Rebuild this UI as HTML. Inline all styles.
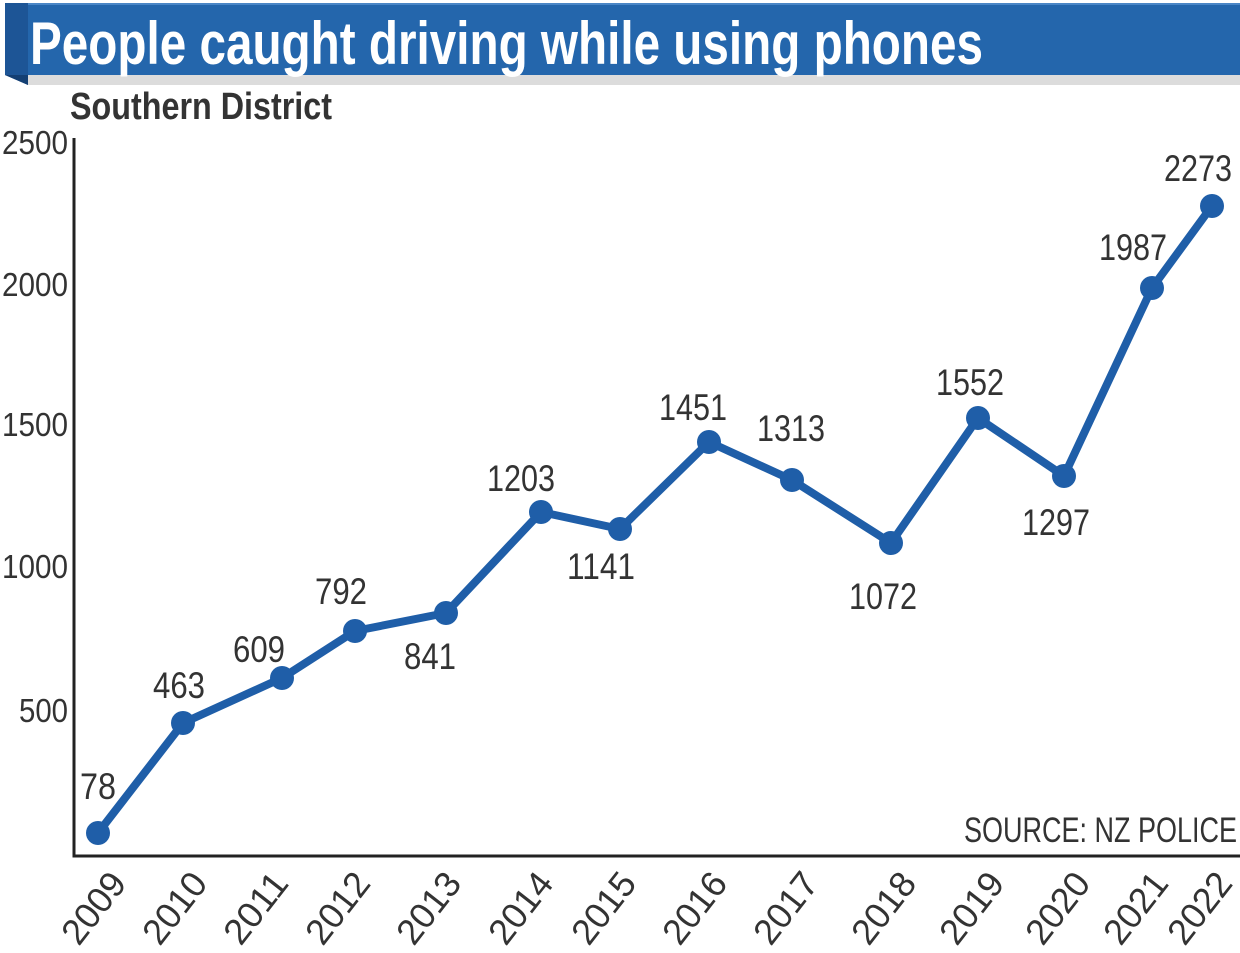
<!DOCTYPE html>
<html><head><meta charset="utf-8"><style>
html,body{margin:0;padding:0;background:#fff;}
svg{display:block;}
text{font-family:"Liberation Sans",sans-serif;}
</style></head><body>
<svg width="1240" height="953" viewBox="0 0 1240 953" xmlns="http://www.w3.org/2000/svg">
<polygon points="5,3 28,3 28,85 5,75" fill="#1d5596"/>
<polygon points="5,75 28,75 28,85" fill="#143f73"/>
<rect x="28" y="3" width="1212" height="72" fill="#2466ac"/>
<rect x="28" y="3" width="1212" height="2" fill="#4a86c6"/>
<rect x="28" y="75" width="1212" height="10" fill="#dcdcdc"/>
<text x="30" y="64" font-size="60" font-weight="bold" fill="#fff" textLength="953" lengthAdjust="spacingAndGlyphs">People caught driving while using phones</text>
<text x="70" y="119" font-size="38" font-weight="bold" fill="#333" textLength="262" lengthAdjust="spacingAndGlyphs">Southern District</text>
<g font-size="33" fill="#333">
<text x="2" y="154" textLength="66" lengthAdjust="spacingAndGlyphs">2500</text>
<text x="2" y="296" textLength="66" lengthAdjust="spacingAndGlyphs">2000</text>
<text x="2" y="436" textLength="66" lengthAdjust="spacingAndGlyphs">1500</text>
<text x="2" y="578" textLength="66" lengthAdjust="spacingAndGlyphs">1000</text>
<text x="19" y="722" textLength="49" lengthAdjust="spacingAndGlyphs">500</text>
</g>
<path d="M74,138 V856 H1240" fill="none" stroke="#222" stroke-width="3"/>
<polyline fill="none" stroke="#1f5ea8" stroke-width="8" stroke-linejoin="round"
points="98,833 183,723 282,678 355,631 446,613 541,512 620,529 709,442 792,480 891,543 978,418 1064,476 1152,288 1212,206"/>
<g fill="#1f5ea8">
<circle cx="98" cy="833" r="12"/><circle cx="183" cy="723" r="12"/><circle cx="282" cy="678" r="12"/><circle cx="355" cy="631" r="12"/><circle cx="446" cy="613" r="12"/><circle cx="541" cy="512" r="12"/><circle cx="620" cy="529" r="12"/><circle cx="709" cy="442" r="12"/><circle cx="792" cy="480" r="12"/><circle cx="891" cy="543" r="12"/><circle cx="978" cy="418" r="12"/><circle cx="1064" cy="476" r="12"/><circle cx="1152" cy="288" r="12"/><circle cx="1212" cy="206" r="12"/>
</g>
<g font-size="37" fill="#333" text-anchor="middle">
<text x="98" y="799" textLength="36" lengthAdjust="spacingAndGlyphs">78</text>
<text x="179" y="698" textLength="52" lengthAdjust="spacingAndGlyphs">463</text>
<text x="259" y="662" textLength="52" lengthAdjust="spacingAndGlyphs">609</text>
<text x="341" y="604" textLength="52" lengthAdjust="spacingAndGlyphs">792</text>
<text x="430" y="669" textLength="52" lengthAdjust="spacingAndGlyphs">841</text>
<text x="521" y="491" textLength="68" lengthAdjust="spacingAndGlyphs">1203</text>
<text x="601" y="579" textLength="68" lengthAdjust="spacingAndGlyphs">1141</text>
<text x="693" y="420" textLength="68" lengthAdjust="spacingAndGlyphs">1451</text>
<text x="791" y="441" textLength="68" lengthAdjust="spacingAndGlyphs">1313</text>
<text x="883" y="609" textLength="68" lengthAdjust="spacingAndGlyphs">1072</text>
<text x="970" y="395" textLength="68" lengthAdjust="spacingAndGlyphs">1552</text>
<text x="1056" y="535" textLength="68" lengthAdjust="spacingAndGlyphs">1297</text>
<text x="1133" y="260" textLength="68" lengthAdjust="spacingAndGlyphs">1987</text>
<text x="1198" y="181" textLength="68" lengthAdjust="spacingAndGlyphs">2273</text>
</g>
<text x="964" y="842" font-size="35" fill="#333" textLength="273" lengthAdjust="spacingAndGlyphs">SOURCE: NZ POLICE</text>
<g font-size="36" fill="#333" text-anchor="end">
<text transform="translate(128,884) rotate(-52)" textLength="80" lengthAdjust="spacingAndGlyphs">2009</text>
<text transform="translate(209,884) rotate(-52)" textLength="80" lengthAdjust="spacingAndGlyphs">2010</text>
<text transform="translate(290,884) rotate(-52)" textLength="80" lengthAdjust="spacingAndGlyphs">2011</text>
<text transform="translate(372,884) rotate(-52)" textLength="80" lengthAdjust="spacingAndGlyphs">2012</text>
<text transform="translate(463,884) rotate(-52)" textLength="80" lengthAdjust="spacingAndGlyphs">2013</text>
<text transform="translate(555,884) rotate(-52)" textLength="80" lengthAdjust="spacingAndGlyphs">2014</text>
<text transform="translate(638,884) rotate(-52)" textLength="80" lengthAdjust="spacingAndGlyphs">2015</text>
<text transform="translate(729,884) rotate(-52)" textLength="80" lengthAdjust="spacingAndGlyphs">2016</text>
<text transform="translate(820,884) rotate(-52)" textLength="80" lengthAdjust="spacingAndGlyphs">2017</text>
<text transform="translate(918,884) rotate(-52)" textLength="80" lengthAdjust="spacingAndGlyphs">2018</text>
<text transform="translate(1006,884) rotate(-52)" textLength="80" lengthAdjust="spacingAndGlyphs">2019</text>
<text transform="translate(1092,884) rotate(-52)" textLength="80" lengthAdjust="spacingAndGlyphs">2020</text>
<text transform="translate(1170,884) rotate(-52)" textLength="80" lengthAdjust="spacingAndGlyphs">2021</text>
<text transform="translate(1234,884) rotate(-52)" textLength="80" lengthAdjust="spacingAndGlyphs">2022</text>
</g>
</svg>
</body></html>
